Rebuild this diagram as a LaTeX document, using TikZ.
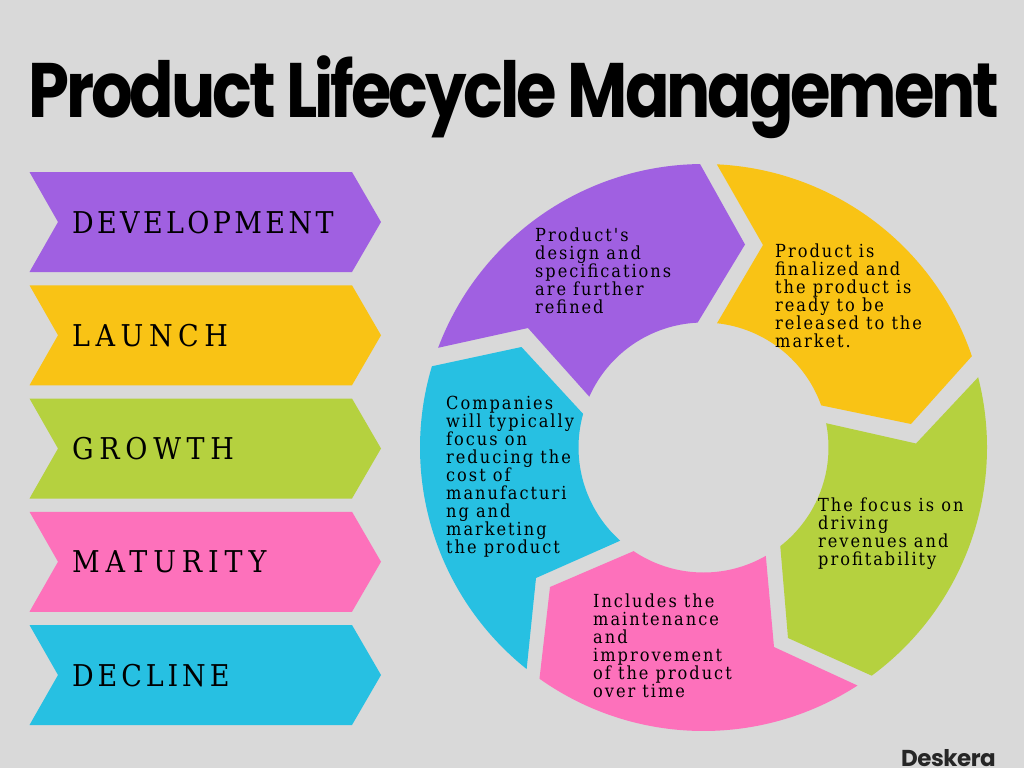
\documentclass[tikz,border=0pt]{standalone}
\usepackage{fontspec}
\setmainfont{DejaVu Serif}
\newfontfamily\titlefont[LetterSpace=-4,FakeStretch=0.85]{Poppins}
\newfontfamily\logofont[LetterSpace=-2]{Poppins}
\newfontfamily\bodyfont[LetterSpace=11]{DejaVu Serif Condensed}
\newfontfamily\stagefont{DejaVu Serif Condensed}
\definecolor{bgrey}{HTML}{D9D9D9}
\definecolor{cpurple}{HTML}{A060E1}
\definecolor{cyellow}{HTML}{F9C315}
\definecolor{cgreen}{HTML}{B5D13F}
\definecolor{cpink}{HTML}{FD71BB}
\definecolor{cblue}{HTML}{27C0E2}
\newcommand{\Rout}{283.5}
\newcommand{\Rin}{125}
\tikzset{
	title/.style = {anchor=base west, inner sep=0, font=\titlefont\fontsize{77.2}{78}\bfseries\selectfont},
	stage/.style = {anchor=base west, inner sep=0, font=\stagefont\fontsize{30}{30}\selectfont},
	body/.style  = {anchor=north west, inner sep=0, align=left, font=\bodyfont\fontsize{18}{18}\selectfont},
	logo/.style  = {anchor=base east, inner sep=0, text=black!85, font=\logofont\fontsize{23}{24}\bfseries\selectfont}
}
% one ring piece: colour, outer arc angles, tip, inner arc angles, notch
\newcommand{\ringpiece}[7]{
	\fill[#1] ([shift={(#2:\Rout)}]hub) arc[start angle=#2, end angle=#3, radius=\Rout]
		-- #4 -- ([shift={(#5:\Rin)}]hub) arc[start angle=#5, end angle=#6, radius=\Rin]
		-- #7 -- cycle;
}
\begin{document}
\begin{tikzpicture}[x=1pt, y=-1pt]
	\useasboundingbox (0,0) rectangle (1024,768);
	\fill[bgrey] (0,0) rectangle (1024,768);
	\node[title] (heading) at (28,117) {Product Lifecycle Management};

	% the five stages on the left
	\foreach \n/\y/\col/\lab/\track in {dev/172/cpurple/DEVELOPMENT/11.2, lau/285.25/cyellow/LAUNCH/18.5, gro/398.5/cgreen/GROWTH/19, mat/511.75/cpink/MATURITY/19.6, dec/625/cblue/DECLINE/13}{
		\fill[\col] (29.5,\y) -- (352,\y) -- (381,\y+50) -- (352,\y+100) -- (29.5,\y+100) -- (58,\y+50) -- cycle;
		\node[stage] (\n) at (72,\y+61) {\addfontfeature{LetterSpace=\track}\lab};
	}

	% the ring
	\coordinate (hub) at (703.5,447.5);
	\ringpiece{cpurple}{200.6}{269.3}{(745,244.5)}{267.3}{204}{(528,328)}
	\ringpiece{cyellow}{272.7}{341.2}{(911,424)}{340.3}{276.2}{(763,245)}
	\ringpiece{cgreen}{345.65}{413.6}{(788,638)}{412.1}{348.8}{(916,443.5)}
	\ringpiece{cpink}{57.1}{125.35}{(550,587)}{124}{60.1}{(774,647)}
	\ringpiece{cblue}{128.6}{196.65}{(521.5,347)}{195.6}{131.8}{(536,578)}

	\node[body] (tdev) at (535,228) {Product's\\design and\\specifications\\are further\\refined};
	\node[body] (tlau) at (775,244) {Product is\\finalized and\\the product is\\ready to be\\released to the\\market.};
	\node[body] (tgro) at (818,498) {The focus is on\\driving\\revenues and\\profitability};
	\node[body] (tmat) at (593,594) {Includes the\\maintenance\\and\\improvement\\of the product\\over time};
	\node[body] (tdec) at (446,396) {Companies\\will typically\\focus on\\reducing the\\cost of\\manufacturi\\ng and\\marketing\\the product};

	\node[logo] (brand) at (996,766) {Deskera};
\end{tikzpicture}
\end{document}
